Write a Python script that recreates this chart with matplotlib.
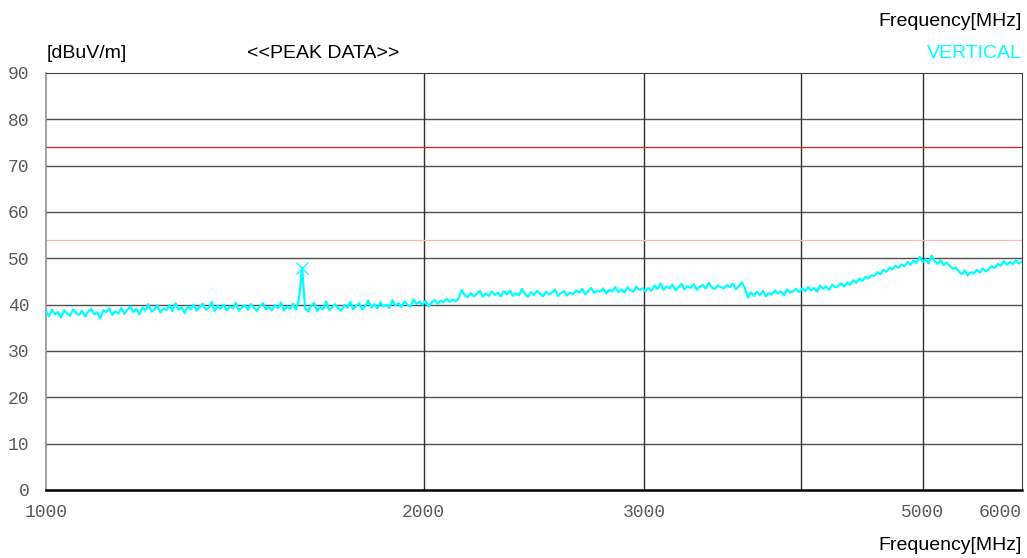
import numpy as np
import matplotlib.pyplot as plt

# sweep limits and read-off trace levels (dBuV/m), vertical polarisation, peak detector
f_start, f_stop = 1000, 6000
levels = [
    38.6, 37.5, 38.9, 37.9, 38.4, 37.2, 38.8, 38.1, 37.6, 39.0, 38.2, 37.8, 38.7, 37.4, 38.5, 39.1, 37.9, 38.3, 37.0, 38.8, 38.4, 39.2, 37.8, 38.6, 38.1,
    39.3, 38.0, 38.9, 39.6, 38.4, 39.1, 37.9, 39.4, 38.7, 40.1, 38.5, 39.0, 39.8, 38.3, 39.2, 38.8, 39.9, 38.6, 40.3, 38.9, 39.4, 38.2, 39.6, 39.0, 40.0,
    38.7, 39.5, 40.2, 38.9, 39.3, 40.6, 38.6, 39.8, 39.1, 40.0, 38.8, 39.6, 39.2, 40.4, 38.7, 39.4, 39.9, 38.9, 40.1, 39.3, 38.6, 39.7, 40.3, 39.0, 39.5,
    38.8, 39.9, 39.2, 40.5, 38.7, 39.6, 39.1, 40.2, 38.9, 41.2, 48.0, 39.3, 38.5, 39.8, 40.4, 38.6, 39.5, 39.0, 40.7, 38.8, 39.4, 40.1, 39.2, 38.7, 39.9,
    39.3, 40.6, 39.0, 39.8, 40.3, 38.9, 39.7, 40.9, 39.4, 40.1, 39.2, 40.5, 39.6, 40.0, 39.3, 41.0, 39.8, 40.3, 39.5, 40.7, 40.0, 39.6, 41.1, 40.2, 40.6,
    40.0, 40.8, 39.6, 40.4, 41.0, 40.2, 40.9, 40.5, 41.3, 40.6, 41.1, 40.7, 41.4, 43.2, 42.0, 41.6, 42.5, 41.8, 42.3, 43.0, 41.7, 42.4, 41.9, 42.8, 42.1,
    42.6, 41.8, 42.9, 42.2, 43.1, 41.9, 42.5, 42.0, 43.4, 42.3, 41.7, 42.7, 42.1, 43.0, 42.4, 41.8, 42.8, 42.2, 42.6, 43.3, 41.9, 42.5, 42.9, 42.0, 42.6,
    42.3, 43.1, 42.6, 43.4, 42.2, 42.9, 43.6, 42.5, 43.0, 42.8, 43.5, 42.4, 43.2, 42.9, 43.8, 42.7, 43.3, 42.6, 43.7, 43.1, 42.8, 43.9, 43.2, 43.5, 42.9,
    43.6, 43.0, 44.1, 43.4, 44.6, 43.2, 43.9, 43.5, 44.3, 43.1, 43.8, 44.5, 43.3, 44.0, 43.6, 44.4, 43.2, 43.9, 44.2, 43.5, 44.7, 43.7, 43.4, 44.1, 43.8,
    43.5, 44.2, 43.8, 44.5, 43.3, 44.0, 44.8, 43.6, 41.5, 42.6, 41.9, 42.8, 42.1, 43.0, 41.8, 42.5, 42.2, 43.1, 42.4, 42.9, 42.0, 43.3, 42.6, 42.9, 43.4,
    42.7, 43.5, 42.9, 43.8, 43.1, 43.6, 42.8, 44.1, 43.4, 43.9, 43.2, 44.3, 43.7, 44.0, 44.6, 43.9, 44.8, 44.3, 45.3, 44.7, 45.6, 45.1, 46.0, 45.7, 46.3,
    46.2, 47.0, 46.6, 47.5, 47.1, 48.0, 47.6, 48.4, 47.9, 48.7, 48.3, 49.2, 48.6, 49.5, 49.0, 50.3, 49.2, 49.8, 48.9, 50.6, 49.4, 48.8, 49.6, 48.5, 49.1,
    48.4, 47.7, 48.0, 47.2, 46.6, 47.4, 46.3, 47.0, 46.7, 47.5, 46.9, 47.8, 47.2, 47.6, 48.3, 47.9, 48.8, 48.4, 49.4, 48.6, 49.2, 48.7, 49.6, 48.9, 49.3,
]
freqs = np.geomspace(f_start, f_stop, len(levels))

# marked peak (spur near 1600 MHz)
peak_freq = 1600
peak_level = 48.0

# limit lines
limit_peak = 74
limit_avg = 54

xticks = [1000, 2000, 3000, 5000, 6000]
xgrid = [2000, 3000, 4000, 5000]
yticks = list(range(0, 91, 10))

fig = plt.figure(figsize=(10.27, 5.58), dpi=100)
ax = fig.add_axes([0.0448, 0.1219, 0.9503, 0.7473])

ax.set_xscale("log")
ax.set_xlim(f_start, f_stop)
ax.set_ylim(0, 90)

for y in yticks[1:-1]:
    ax.axhline(y, color="#505050", linewidth=1.0, zorder=1)
for x in xgrid:
    ax.axvline(x, color="#303030", linewidth=1.0, zorder=1)

ax.axhline(limit_peak, color="#e02020", linewidth=0.9, zorder=2)
ax.axhline(limit_avg, color="#ffb8b8", linewidth=0.9, zorder=2)

ax.plot(freqs, levels, color="#00ffff", linewidth=1.6, zorder=3)
ax.plot([peak_freq], [peak_level], marker="x", color="#00ffff",
        markersize=9, markeredgewidth=0.9, linestyle="none", zorder=4)

ax.xaxis.set_minor_locator(plt.NullLocator())
ax.set_xticks(xticks)
ax.set_xticklabels([str(t) for t in xticks])
ax.set_yticks(yticks)
ax.set_yticklabels([str(t) for t in yticks])
ax.tick_params(axis="both", length=0, labelsize=13, colors="#5a5a5a")
ax.tick_params(axis="x", pad=10)
ax.tick_params(axis="y", pad=12)
for lab in ax.get_xticklabels() + ax.get_yticklabels():
    lab.set_fontfamily("Liberation Mono")
ax.get_xticklabels()[-1].set_horizontalalignment("right")

ax.spines["left"].set_color("#909090")
ax.spines["left"].set_linewidth(1.2)
ax.spines["bottom"].set_color("#000000")
ax.spines["bottom"].set_linewidth(1.8)
ax.spines["top"].set_color("#404040")
ax.spines["right"].set_color("#404040")

txt = dict(family="Liberation Sans", fontsize=14)
fig.text(47 / 1027, 1 - 53 / 558, "[dBuV/m]", ha="left", va="center", **txt)
fig.text(323 / 1027, 1 - 53 / 558, "<<PEAK DATA>>", ha="center", va="center", **txt)
fig.text(1022 / 1027, 1 - 22 / 558, "Frequency[MHz]", ha="right", va="center", **txt)
fig.text(1022 / 1027, 1 - 53 / 558, "VERTICAL", ha="right", va="center",
         color="#00ffff", **txt)
fig.text(1022 / 1027, 1 - 545 / 558, "Frequency[MHz]", ha="right", va="center", **txt)

fig.savefig("out.png", dpi=100)
